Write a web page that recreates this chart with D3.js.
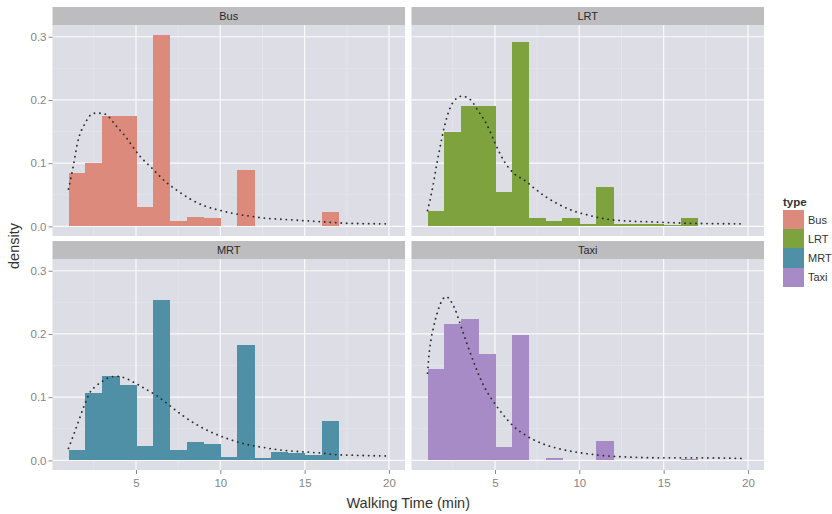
<!DOCTYPE html>
<html>
<head>
<meta charset="utf-8">
<script src="https://cdn.jsdelivr.net/npm/d3@7/dist/d3.min.js"></script>
<style>
  body { margin: 0; background: #fff; }
  svg { display: block; font-family: "Liberation Sans", Arial, sans-serif; }
</style>
</head>
<body>
<svg id="chart" width="832" height="514"></svg>
<script>
// facet order and fill colours (as they look in the scan)
const types = ["Bus", "LRT", "MRT", "Taxi"];
const fills = ["#dc8a7b", "#7ea23d", "#4f90a6", "#a78bc6"];

// histogram bins, width 1 min, left edges
const binLeft = [1, 2, 3, 4, 5, 6, 7, 8, 9, 10, 11, 12, 13, 14, 15, 16];

// bar densities per bin
const busBars  = [0.085, 0.100, 0.175, 0.174, 0.030, 0.303, 0.009, 0.015, 0.013, 0, 0.090, 0, 0, 0, 0, 0.022];
const lrtBars  = [0.025, 0.150, 0.190, 0.190, 0.054, 0.291, 0.014, 0.008, 0.013, 0.004, 0.062, 0.004, 0.004, 0.003, 0.002, 0.013];
const mrtBars  = [0.016, 0.107, 0.133, 0.120, 0.023, 0.254, 0.017, 0.029, 0.026, 0.005, 0.183, 0.003, 0.013, 0.012, 0.008, 0.063];
const taxiBars = [0.145, 0.215, 0.224, 0.169, 0.021, 0.199, 0, 0.004, 0, 0, 0.030, 0, 0, 0, 0, 0.002];

// fitted density curves (dotted)
const busCurveX  = [1.0, 1.28, 1.53, 1.98, 2.5, 3.0, 3.4, 3.7, 4.38, 5.17, 5.95, 6.74, 7.53, 8.3, 9.1, 9.88, 10.67, 11.8, 12.6, 13.8, 15.6, 17.5, 19.8];
const busCurveY  = [0.059, 0.095, 0.132, 0.163, 0.179, 0.179, 0.173, 0.163, 0.142, 0.113, 0.092, 0.071, 0.055, 0.042, 0.032, 0.026, 0.021, 0.016, 0.013, 0.011, 0.008, 0.005, 0.004];
const lrtCurveX  = [1.0, 1.24, 1.54, 1.83, 2.03, 2.53, 3.03, 3.52, 4.02, 4.52, 5.0, 5.5, 6.2, 6.7, 7.3, 8.0, 8.7, 9.5, 10.5, 11.5, 12.5, 14.5, 16.45, 19.8];
const lrtCurveY  = [0.025, 0.053, 0.097, 0.137, 0.161, 0.197, 0.206, 0.201, 0.182, 0.161, 0.132, 0.105, 0.082, 0.074, 0.061, 0.047, 0.036, 0.026, 0.018, 0.012, 0.009, 0.007, 0.005, 0.004];
const mrtCurveX  = [1.0, 1.28, 1.57, 1.92, 2.26, 2.6, 3.0, 3.5, 3.89, 4.38, 4.97, 5.56, 6.25, 7.03, 7.82, 8.7, 9.6, 10.47, 11.45, 12.43, 13.4, 14.6, 15.77, 16.95, 18.1, 19.9];
const mrtCurveY  = [0.019, 0.039, 0.060, 0.086, 0.107, 0.117, 0.125, 0.132, 0.133, 0.130, 0.122, 0.113, 0.102, 0.086, 0.070, 0.055, 0.043, 0.034, 0.026, 0.021, 0.017, 0.014, 0.012, 0.009, 0.008, 0.007];
const taxiCurveX = [1.0, 1.06, 1.2, 1.36, 1.56, 1.8, 2.1, 2.36, 2.62, 2.96, 3.36, 3.76, 4.16, 4.56, 4.96, 5.46, 6.06, 6.86, 7.86, 8.86, 10.06, 11.26, 13.26, 15.26, 17.26, 19.86];
const taxiCurveY = [0.138, 0.159, 0.190, 0.211, 0.232, 0.250, 0.259, 0.253, 0.240, 0.214, 0.183, 0.154, 0.128, 0.107, 0.091, 0.073, 0.055, 0.039, 0.026, 0.018, 0.012, 0.008, 0.005, 0.004, 0.004, 0.003];

// axis ticks
const xTicks = [5, 10, 15, 20];
const xMinor = [2.5, 7.5, 12.5, 17.5];
const yTicks = [0, 0.1, 0.2, 0.3];
const yMinor = [0.05, 0.15, 0.25];

const bars = [busBars, lrtBars, mrtBars, taxiBars];
const curvesX = [busCurveX, lrtCurveX, mrtCurveX, taxiCurveX];
const curvesY = [busCurveY, lrtCurveY, mrtCurveY, taxiCurveY];

// layout
const pw = 352.5, ph = 211, stripH = 18;
const colX = [52.5, 411.5];
const rowY = [25, 259];

const svg = d3.select("#chart");

const x = d3.scaleLinear().domain([0.05, 20.95]).range([0, pw]);
const y = d3.scaleLinear().domain([-0.0152, 0.3186]).range([ph, 0]);

const line = d3.line()
    .x(d => x(d[0]))
    .y(d => y(d[1]))
    .curve(d3.curveMonotoneX);

const tickFont = "11.5px";

types.forEach((t, i) => {
    const col = i % 2, row = Math.floor(i / 2);
    const g = svg.append("g")
        .attr("transform", `translate(${colX[col]},${rowY[row]})`);

    // strip
    g.append("rect")
        .attr("x", 0).attr("y", -stripH)
        .attr("width", pw).attr("height", stripH)
        .attr("fill", "#bdbdc0");
    g.append("text")
        .attr("x", pw / 2).attr("y", -stripH / 2)
        .attr("dy", "0.36em")
        .attr("text-anchor", "middle")
        .attr("font-size", "11px")
        .attr("fill", "#2a2a2a")
        .text(t);

    // panel background + grid
    g.append("rect")
        .attr("width", pw).attr("height", ph)
        .attr("fill", "#dddde6");

    g.selectAll(".xminor").data(xMinor).enter().append("line")
        .attr("x1", d => x(d)).attr("x2", d => x(d))
        .attr("y1", 0).attr("y2", ph)
        .attr("stroke", "#eaeaf0").attr("stroke-width", 0.6);
    g.selectAll(".yminor").data(yMinor).enter().append("line")
        .attr("y1", d => y(d)).attr("y2", d => y(d))
        .attr("x1", 0).attr("x2", pw)
        .attr("stroke", "#eaeaf0").attr("stroke-width", 0.6);
    g.selectAll(".xmajor").data(xTicks).enter().append("line")
        .attr("x1", d => x(d)).attr("x2", d => x(d))
        .attr("y1", 0).attr("y2", ph)
        .attr("stroke", "#fafafc").attr("stroke-width", 1.2);
    g.selectAll(".ymajor").data(yTicks).enter().append("line")
        .attr("y1", d => y(d)).attr("y2", d => y(d))
        .attr("x1", 0).attr("x2", pw)
        .attr("stroke", "#fafafc").attr("stroke-width", 1.2);

    // histogram (crisp edges so neighbouring bins show no seams)
    g.selectAll(".bar").data(bars[i]).enter().append("rect")
        .attr("x", (d, k) => x(binLeft[k]))
        .attr("width", (d, k) => x(binLeft[k] + 1) - x(binLeft[k]) + 0.6)
        .attr("y", d => y(d))
        .attr("height", d => y(0) - y(d))
        .attr("fill", fills[i])
        .attr("shape-rendering", "crispEdges");

    // density curve
    g.append("path")
        .datum(curvesX[i].map((v, k) => [v, curvesY[i][k]]))
        .attr("d", line)
        .attr("fill", "none")
        .attr("stroke", "#2b2b2b")
        .attr("stroke-width", 1.8)
        .attr("stroke-linecap", "round")
        .attr("stroke-dasharray", "0.1,5.4");

    // y axis on left column
    if (col === 0) {
        const ya = g.append("g")
            .call(d3.axisLeft(y).tickValues(yTicks).tickFormat(d3.format(".1f")).tickSize(4).tickPadding(2));
        ya.select(".domain").remove();
        ya.selectAll("line").attr("stroke", "#8a8a8a");
        ya.selectAll("text").attr("fill", "#858585").attr("font-size", tickFont)
            .attr("font-family", "'Liberation Sans', Arial, sans-serif");
    }
    // x axis on bottom row
    if (row === 1) {
        const xa = g.append("g")
            .attr("transform", `translate(0,${ph})`)
            .call(d3.axisBottom(x).tickValues(xTicks).tickSize(4).tickPadding(5));
        xa.select(".domain").remove();
        xa.selectAll("line").attr("stroke", "#8a8a8a");
        xa.selectAll("text").attr("fill", "#858585").attr("font-size", tickFont)
            .attr("font-family", "'Liberation Sans', Arial, sans-serif");
    }
});

// axis titles
svg.append("text")
    .attr("x", (colX[0] + colX[1] + pw) / 2)
    .attr("y", 503).attr("dy", "0.36em")
    .attr("text-anchor", "middle")
    .attr("font-size", "14.5px")
    .attr("fill", "#333")
    .text("Walking Time (min)");

svg.append("text")
    .attr("transform", "translate(14,246) rotate(-90)")
    .attr("dy", "0.36em")
    .attr("text-anchor", "middle")
    .attr("font-size", "14.5px")
    .attr("fill", "#333")
    .text("density");

// legend
const lg = svg.append("g").attr("transform", "translate(783,202)");
lg.append("text")
    .attr("x", 0).attr("y", 0)
    .attr("dy", "0.36em")
    .attr("font-size", "11.5px")
    .attr("font-weight", "bold")
    .attr("fill", "#333")
    .text("type");
const keyH = 19.2;
lg.selectAll(".key").data(types).enter().append("rect")
    .attr("x", 0).attr("y", (d, k) => 8 + k * keyH)
    .attr("width", 21).attr("height", keyH + 0.5)
    .attr("fill", (d, k) => fills[k])
    .attr("shape-rendering", "crispEdges");
lg.selectAll(".lab").data(types).enter().append("text")
    .attr("x", 25).attr("y", (d, k) => 8 + k * keyH + keyH / 2)
    .attr("dy", "0.36em")
    .attr("font-size", "11px")
    .attr("fill", "#333")
    .text(d => d);
</script>
</body>
</html>
